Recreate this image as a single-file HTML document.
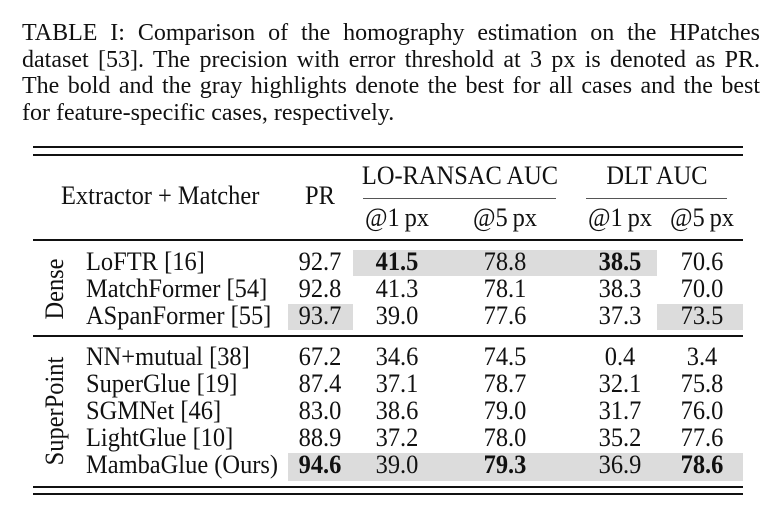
<!DOCTYPE html>
<html><head><meta charset="utf-8"><style>
body{margin:0;width:780px;height:515px;background:#fff;position:relative;font-family:"Liberation Serif",serif;color:#111;overflow:hidden}
.cap{position:absolute;left:22px;width:738px;top:20px;font-size:24px;line-height:26.6px}
.cap div{text-align:justify;text-align-last:justify;white-space:nowrap}
.cap div:last-child{text-align-last:left}
.hl{position:absolute;background:#dcdcdc}
.ln{position:absolute;background:#111}
.t{position:absolute;font-size:26px;line-height:26px;height:26px;white-space:nowrap;transform:scaleX(.94);transform-origin:left center}
.c{transform:translateX(-50%) scaleX(.94);transform-origin:center center}
b{font-weight:bold}
.v{position:absolute;font-size:26px;white-space:nowrap;transform:translate(-50%,-50%) rotate(-90deg) scaleX(.94)}
</style></head><body>
<div class="cap">
<div>TABLE I: Comparison of the homography estimation on the HPatches</div>
<div>dataset [53]. The precision with error threshold at 3 px is denoted as PR.</div>
<div>The bold and the gray highlights denote the best for all cases and the best</div>
<div>for feature-specific cases, respectively.</div>
</div>

<div class="hl" style="left:353px;top:250px;width:304px;height:26px"></div>
<div class="hl" style="left:288px;top:304px;width:65px;height:26px"></div>
<div class="hl" style="left:657px;top:304px;width:86px;height:26px"></div>
<div class="hl" style="left:288px;top:453px;width:455px;height:28px"></div>

<div class="ln" style="left:33px;top:146px;width:710px;height:2px"></div>
<div class="ln" style="left:33px;top:154px;width:710px;height:1.5px"></div>
<div class="ln" style="left:33px;top:239px;width:710px;height:1.5px"></div>
<div class="ln" style="left:33px;top:335px;width:710px;height:1.5px"></div>
<div class="ln" style="left:33px;top:486px;width:710px;height:1.5px"></div>
<div class="ln" style="left:33px;top:493px;width:710px;height:2px"></div>
<div class="ln" style="left:363px;top:198px;width:193px;height:1px;background:#555"></div>
<div class="ln" style="left:586px;top:198px;width:141px;height:1px;background:#555"></div>

<div class="t" style="left:61px;top:183px">Extractor + Matcher</div>
<div class="t c" style="left:320px;top:183px">PR</div>
<div class="t c" style="left:460px;top:163px">LO-RANSAC AUC</div>
<div class="t c" style="left:657px;top:163px">DLT AUC</div>
<div class="t c" style="left:397px;top:205px">@1&#8201;px</div>
<div class="t c" style="left:505px;top:205px">@5&#8201;px</div>
<div class="t c" style="left:620px;top:205px">@1&#8201;px</div>
<div class="t c" style="left:702px;top:205px">@5&#8201;px</div>

<div class="v" style="left:55px;top:289px">Dense</div>
<div class="v" style="left:55px;top:411px">SuperPoint</div>

<div class="t" style="left:86px;top:249px">LoFTR [16]</div>
<div class="t" style="left:86px;top:276px">MatchFormer [54]</div>
<div class="t" style="left:86px;top:303px">ASpanFormer [55]</div>
<div class="t" style="left:86px;top:344px">NN+mutual [38]</div>
<div class="t" style="left:86px;top:371px">SuperGlue [19]</div>
<div class="t" style="left:86px;top:398px">SGMNet [46]</div>
<div class="t" style="left:86px;top:425px">LightGlue [10]</div>
<div class="t" style="left:86px;top:452px">MambaGlue (Ours)</div>

<div class="t c" style="left:320px;top:249px">92.7</div>
<div class="t c" style="left:397px;top:249px"><b>41.5</b></div>
<div class="t c" style="left:505px;top:249px">78.8</div>
<div class="t c" style="left:620px;top:249px"><b>38.5</b></div>
<div class="t c" style="left:702px;top:249px">70.6</div>

<div class="t c" style="left:320px;top:276px">92.8</div>
<div class="t c" style="left:397px;top:276px">41.3</div>
<div class="t c" style="left:505px;top:276px">78.1</div>
<div class="t c" style="left:620px;top:276px">38.3</div>
<div class="t c" style="left:702px;top:276px">70.0</div>

<div class="t c" style="left:320px;top:303px">93.7</div>
<div class="t c" style="left:397px;top:303px">39.0</div>
<div class="t c" style="left:505px;top:303px">77.6</div>
<div class="t c" style="left:620px;top:303px">37.3</div>
<div class="t c" style="left:702px;top:303px">73.5</div>

<div class="t c" style="left:320px;top:344px">67.2</div>
<div class="t c" style="left:397px;top:344px">34.6</div>
<div class="t c" style="left:505px;top:344px">74.5</div>
<div class="t c" style="left:620px;top:344px">0.4</div>
<div class="t c" style="left:702px;top:344px">3.4</div>

<div class="t c" style="left:320px;top:371px">87.4</div>
<div class="t c" style="left:397px;top:371px">37.1</div>
<div class="t c" style="left:505px;top:371px">78.7</div>
<div class="t c" style="left:620px;top:371px">32.1</div>
<div class="t c" style="left:702px;top:371px">75.8</div>

<div class="t c" style="left:320px;top:398px">83.0</div>
<div class="t c" style="left:397px;top:398px">38.6</div>
<div class="t c" style="left:505px;top:398px">79.0</div>
<div class="t c" style="left:620px;top:398px">31.7</div>
<div class="t c" style="left:702px;top:398px">76.0</div>

<div class="t c" style="left:320px;top:425px">88.9</div>
<div class="t c" style="left:397px;top:425px">37.2</div>
<div class="t c" style="left:505px;top:425px">78.0</div>
<div class="t c" style="left:620px;top:425px">35.2</div>
<div class="t c" style="left:702px;top:425px">77.6</div>

<div class="t c" style="left:320px;top:452px"><b>94.6</b></div>
<div class="t c" style="left:397px;top:452px">39.0</div>
<div class="t c" style="left:505px;top:452px"><b>79.3</b></div>
<div class="t c" style="left:620px;top:452px">36.9</div>
<div class="t c" style="left:702px;top:452px"><b>78.6</b></div>
</body></html>
